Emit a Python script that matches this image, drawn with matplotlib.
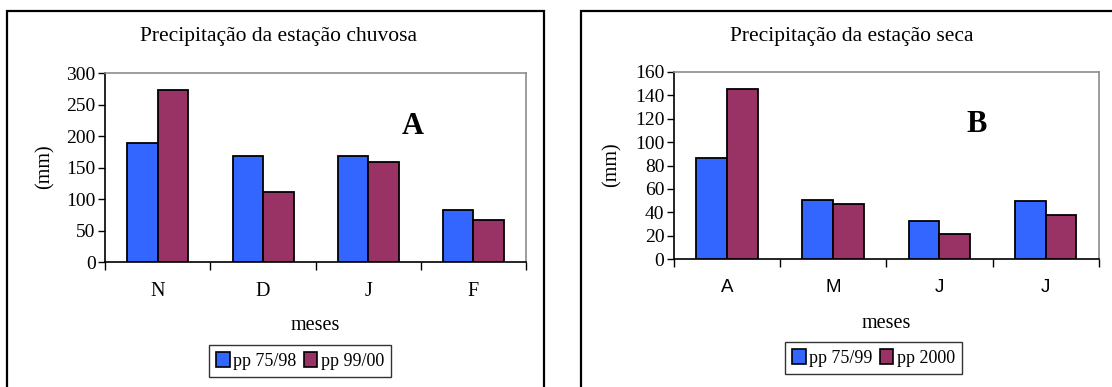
import matplotlib
matplotlib.use("Agg")
import matplotlib.pyplot as plt
from matplotlib.patches import Rectangle, Patch
import numpy as np

# Rainy-season data (panel A)
meses_chuvosa = ["N", "D", "J", "F"]
pp_75_98 = [190, 169, 169, 83]
pp_99_00 = [273, 111, 159, 67]

# Dry-season data (panel B)
meses_seca = ["A", "M", "J", "J"]
pp_75_99 = [86, 51, 33, 50]
pp_2000 = [145, 47, 22, 38]

BLUE = "#3366FF"
PLUM = "#993366"
SERIF = "Liberation Serif"
SANS = "Liberation Sans"

W, H = 1112, 387
fig = plt.figure(figsize=(W / 100, H / 100), dpi=100)
fig.patch.set_facecolor("white")


def px_box(x0, y0, x1, y1):
    """Convert a pixel box (top-left origin) to figure fractions."""
    return [x0 / W, 1 - y1 / H, (x1 - x0) / W, (y1 - y0) / H]


def panel(box, cats, s1, s2, names, ymax, ystep, letter, letter_xy,
          cat_font, cat_size, title, title_x, ylab_x, ylab_y, meses_y,
          leg_center):
    ax = fig.add_axes(px_box(*box))
    n = len(cats)
    x = np.arange(n)
    bw = 0.29
    ax.bar(x - bw / 2, s1, width=bw, color=BLUE, edgecolor="black",
           linewidth=1.3, label=names[0], zorder=3)
    ax.bar(x + bw / 2, s2, width=bw, color=PLUM, edgecolor="black",
           linewidth=1.3, label=names[1], zorder=3)
    ax.set_xlim(-0.5, n - 0.5)
    ax.set_ylim(0, ymax)
    ax.set_yticks(np.arange(0, ymax + 1, ystep))
    ax.tick_params(axis="y", direction="out", length=5, width=1,
                   pad=2, labelsize=14)
    for t in ax.get_yticklabels():
        t.set_fontfamily(SERIF)
    # category labels at centres, tick marks at boundaries
    ax.set_xticks(x)
    ax.set_xticklabels(cats, fontfamily=cat_font, fontsize=cat_size)
    ax.tick_params(axis="x", which="major", length=0, pad=14)
    ax.set_xticks(np.arange(-0.5, n), minor=True)
    ax.tick_params(axis="x", which="minor", direction="out", length=6,
                   width=1)
    for side in ("top", "right"):
        ax.spines[side].set_color("#8c8c8c")
        ax.spines[side].set_linewidth(1.2)
    for side in ("left", "bottom"):
        ax.spines[side].set_color("black")
        ax.spines[side].set_linewidth(1.2)

    ax.text(letter_xy[0], letter_xy[1], letter, transform=None,
            fontfamily=SERIF, fontweight="bold", fontsize=22,
            ha="center", va="center")

    fig.text(title_x / W, 1 - 36 / H, title, fontfamily=SERIF,
             fontsize=15.5, ha="center", va="center")
    fig.text(ylab_x / W, 1 - ylab_y / H, "(mm)", fontfamily=SERIF,
             fontsize=14.5, rotation=90, ha="center", va="center")
    cx = (box[0] + box[2]) / 2
    fig.text(cx / W, 1 - meses_y / H, "meses", fontfamily=SERIF,
             fontsize=14.5, ha="center", va="center")

    handles = [Patch(facecolor=BLUE, edgecolor="black", linewidth=1.2),
               Patch(facecolor=PLUM, edgecolor="black", linewidth=1.2)]
    leg = fig.legend(handles, names, loc="center",
                     bbox_to_anchor=(leg_center[0] / W, 1 - leg_center[1] / H),
                     ncol=2, frameon=True, fancybox=False,
                     prop={"family": SERIF, "size": 13},
                     handlelength=0.75, handleheight=0.9, handletextpad=0.2,
                     columnspacing=0.4, borderpad=0.4, borderaxespad=0)
    leg.get_frame().set_edgecolor("black")
    leg.get_frame().set_linewidth(1.0)
    return ax


# A: letter positions are in display pixels (origin bottom-left)
panel((105.3, 73.3, 526, 262.3), meses_chuvosa, pp_75_98, pp_99_00,
      ["pp 75/98", "pp 99/00"], 300, 50, "A", (413, H - 127),
      SERIF, 14.5, "Precipitação da estação chuvosa", 279, 45, 167, 326,
      (300, 361))

panel((674, 71.7, 1098.7, 259.3), meses_seca, pp_75_99, pp_2000,
      ["pp 75/99", "pp 2000"], 160, 20, "B", (977, H - 125),
      SANS, 13.5, "Precipitação da estação seca", 852, 612, 165, 323,
      (873.5, 358))

# chart frames
fig.add_artist(Rectangle((7 / W, -0.2), (544 - 7) / W, 1.2 - 11 / H,
                         transform=fig.transFigure, fill=False,
                         edgecolor="black", linewidth=1.6, clip_on=False))
fig.add_artist(Rectangle((581 / W, -0.2), 0.5, 1.2 - 11 / H,
                         transform=fig.transFigure, fill=False,
                         edgecolor="black", linewidth=1.6, clip_on=False))

fig.savefig("out.png", dpi=100, facecolor="white")
